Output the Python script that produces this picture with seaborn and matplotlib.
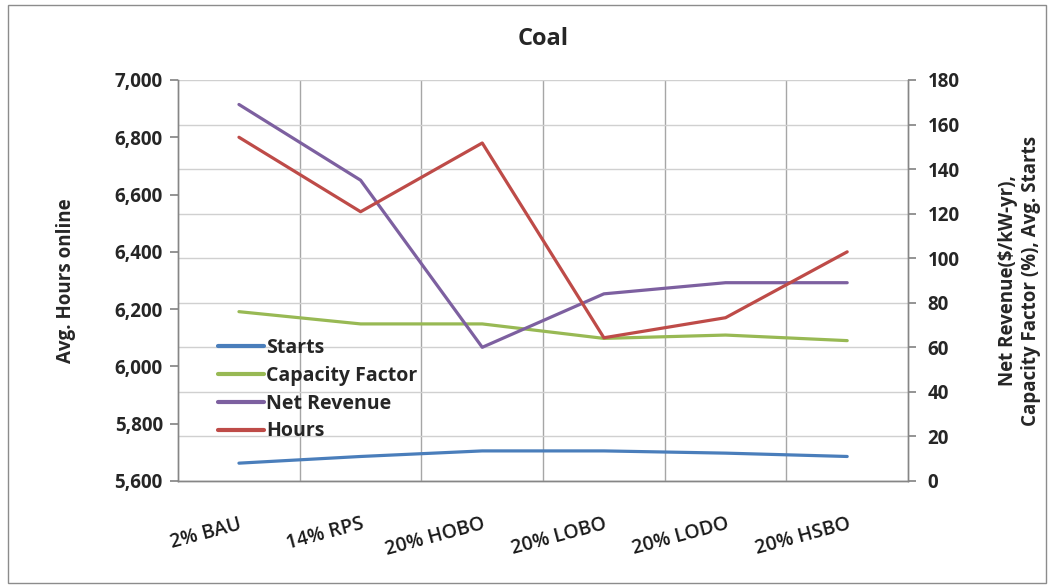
import matplotlib
matplotlib.use("Agg")
import matplotlib.pyplot as plt
import seaborn as sns
import pandas as pd
import numpy as np

scenarios = ["2% BAU", "14% RPS", "20% HOBO", "20% LOBO", "20% LODO", "20% HSBO"]
hours = [6800, 6540, 6780, 6100, 6170, 6400]
net_revenue = [169, 135, 60, 84, 89, 89]
capacity_factor = [76, 70.5, 70.5, 64, 65.5, 63]
starts = [8, 11, 13.5, 13.5, 12.5, 11]

left_ticks = [5600, 5800, 6000, 6200, 6400, 6600, 6800, 7000]
right_ticks = [0, 20, 40, 60, 80, 100, 120, 140, 160, 180]

colors = {
    "Starts": "#4a7ebb",
    "Capacity Factor": "#98b954",
    "Net Revenue": "#7d60a0",
    "Hours": "#be4b48",
}

sns.set_theme(style="white")
plt.rcParams["font.family"] = ["Open Sans", "DejaVu Sans"]

pos = np.arange(len(scenarios))
right_df = pd.DataFrame({
    "x": np.tile(pos, 3),
    "value": starts + capacity_factor + net_revenue,
    "series": ["Starts"] * 6 + ["Capacity Factor"] * 6 + ["Net Revenue"] * 6,
})
left_df = pd.DataFrame({"x": pos, "value": hours, "series": ["Hours"] * 6})

fig = plt.figure(figsize=(10.54, 5.88), dpi=100)
fig.patches.append(plt.Rectangle((0.008, 0.008), 0.984, 0.984, transform=fig.transFigure,
                                 fill=False, edgecolor="#8c8c8c", linewidth=1.0))
ax = fig.add_axes([0.169, 0.182, 0.6925, 0.682])
ax2 = ax.twinx()

# secondary axis: starts, capacity factor, net revenue
sns.lineplot(data=right_df, x="x", y="value", hue="series", palette=colors,
             linewidth=2.3, ax=ax2, legend=False, sort=False)
ax2.set_ylim(0, 180)
ax2.set_yticks(right_ticks)
ax2.set_yticklabels([str(t) for t in right_ticks], fontsize=13.5, fontweight="bold")
ax2.grid(True, axis="y", color="#d0d0d0", linewidth=1.0)
ax2.set_axisbelow(True)

# primary axis: hours
sns.lineplot(data=left_df, x="x", y="value", hue="series", palette=colors,
             linewidth=2.3, ax=ax, legend=False)
ax.set_ylim(5600, 7000)
ax.set_yticks(left_ticks)
ax.set_yticklabels([f"{t:,}" for t in left_ticks], fontsize=13.5, fontweight="bold")

ax.set_zorder(ax2.get_zorder() + 1)
ax.patch.set_visible(False)

ax.set_xlim(-0.5, len(scenarios) - 0.5)
ax.set_xticks(pos)
ax.set_xticklabels(scenarios, rotation=15, ha="right", rotation_mode="anchor",
                   fontsize=14, fontweight="semibold", color="#1a1a1a")
ax.set_xticks(np.arange(-0.5, len(scenarios), 1.0), minor=True)
ax.tick_params(axis="x", which="major", length=0, pad=24)
ax.tick_params(axis="x", which="minor", length=6, color="#868686", direction="out")
ax2.grid(False, axis="x")
for xv in np.arange(0.5, len(scenarios) - 0.5, 1.0):
    ax2.axvline(xv, color="#a6a6a6", linewidth=1.0, zorder=0)

ax.tick_params(axis="y", length=6, color="#868686", direction="out", left=True, pad=5)
ax2.tick_params(axis="y", length=6, color="#868686", direction="out", right=True, pad=8)

for a in (ax, ax2):
    a.spines["top"].set_visible(False)
    for s in ("left", "right", "bottom"):
        a.spines[s].set_color("#868686")
        a.spines[s].set_linewidth(1.0)
ax.set_xlabel("")
ax.set_ylabel("Avg. Hours online", fontsize=13.5, fontweight="bold", labelpad=28)
ax2.set_ylabel("Net Revenue($/kW-yr),\nCapacity Factor (%), Avg. Starts",
               fontsize=13.5, fontweight="bold", labelpad=28)

ax.set_title("Coal", fontsize=17, fontweight="bold", pad=25)

handles = [plt.Line2D([], [], color=colors[k], linewidth=3) for k in colors]
leg = ax.legend(handles, list(colors.keys()), loc="lower left",
                bbox_to_anchor=(0.03, 0.055), frameon=False,
                handlelength=2.4, handletextpad=0.1, labelspacing=0.4,
                prop={"weight": "bold", "size": 14})

fig.savefig("out.png", dpi=100)
